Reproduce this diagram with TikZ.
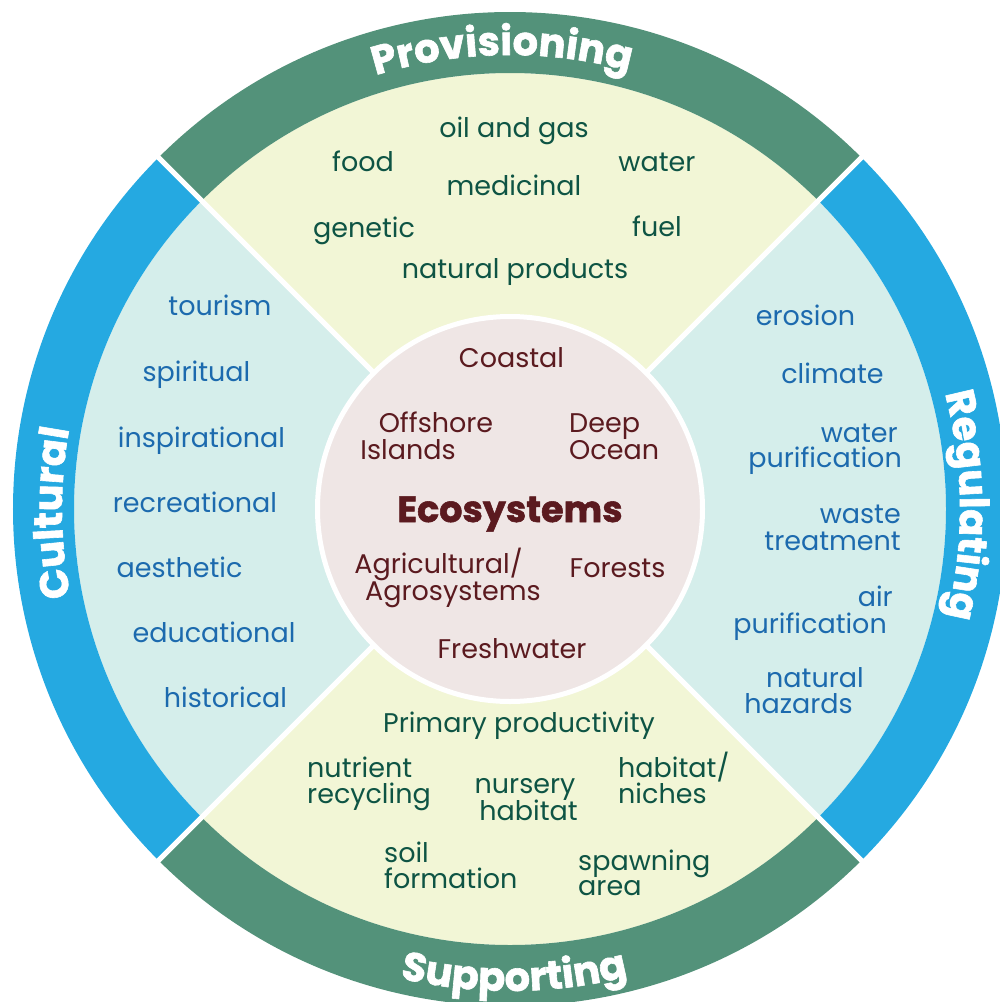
\documentclass[tikz,border=0pt]{standalone}
\usepackage{fontspec}
\setmainfont{Poppins}
\newfontfamily\heavyfont{Poppins}[BoldFeatures={FakeBold=1.5}]
\usetikzlibrary{decorations.text}
\definecolor{bandgreen}{RGB}{83,146,122}
\definecolor{bandblue}{RGB}{37,169,225}
\definecolor{paleyellow}{RGB}{242,246,214}
\definecolor{paleblue}{RGB}{213,238,235}
\definecolor{corefill}{RGB}{239,230,229}
\definecolor{coretext}{RGB}{91,26,31}
\definecolor{dkgreen}{RGB}{14,84,68}
\definecolor{svcblue}{RGB}{28,106,174}
\newcommand\bandfont{\heavyfont\bfseries\fontsize{40}{40}\selectfont\color{white}}
\begin{document}
\begin{tikzpicture}[x=1pt,y=-1pt,
  txt/.style={inner sep=0pt, anchor=base, font=\fontsize{27}{27}\selectfont},
  prov/.style={txt, text=dkgreen},
  cult/.style={txt, text=svcblue},
  eco/.style={txt, text=coretext},
  sepline/.style={white, line width=5pt},
  bandlabel/.style={decorate, decoration={text along path, text align=center, text={|\bandfont|#1}}}
  ]
\useasboundingbox (0,0) rectangle (1000,1002);
\begin{scope}[shift={(510,509)}, y=1pt]
  \coordinate (c) at (0,0);
  % inner sectors
  \fill[paleyellow] (c) -- (45:436pt) arc[start angle=45,end angle=135,radius=436pt] -- cycle;
  \fill[paleblue] (c) -- (135:436pt) arc[start angle=135,end angle=225,radius=436pt] -- cycle;
  \fill[paleyellow] (c) -- (225:436pt) arc[start angle=225,end angle=315,radius=436pt] -- cycle;
  \fill[paleblue] (c) -- (315:436pt) arc[start angle=315,end angle=405,radius=436pt] -- cycle;
  % bands
  \fill[bandgreen] (45:497pt) arc[start angle=45,end angle=135,radius=497pt] -- (135:436pt) arc[start angle=135,end angle=45,radius=436pt] -- cycle;
  \fill[bandblue] (135:497pt) arc[start angle=135,end angle=225,radius=497pt] -- (225:436pt) arc[start angle=225,end angle=135,radius=436pt] -- cycle;
  \fill[bandgreen] (225:497pt) arc[start angle=225,end angle=315,radius=497pt] -- (315:436pt) arc[start angle=315,end angle=225,radius=436pt] -- cycle;
  \fill[bandblue] (315:497pt) arc[start angle=315,end angle=405,radius=497pt] -- (405:436pt) arc[start angle=405,end angle=315,radius=436pt] -- cycle;
  % separators
  \foreach \a in {45,135,225,315} {
    \coordinate (s\a) at (\a:505pt);
    \draw[sepline] (c) -- (s\a);
  }
  % core
  \node[circle, fill=corefill, draw=white, line width=5pt, minimum size=385pt, inner sep=0pt] (core) at (c) {};
  % band labels
  \path[bandlabel=Provisioning] (131:454pt) arc[start angle=131,end angle=51,radius=454pt];
  \path[bandlabel=Supporting] (230.5:482pt) arc[start angle=230.5,end angle=310.5,radius=482pt];
  \path[bandlabel=Cultural] (220.5:448pt) arc[start angle=220.5,end angle=140.5,radius=448pt];
  \path[bandlabel=Regulating] (40.5:450pt) arc[start angle=40.5,end angle=-39.5,radius=450pt];
\end{scope}
% Provisioning
\node[prov] (oil) at (514,137) {oil and gas};
\node[prov] (food) at (363,171) {food};
\node[prov] (waterp) at (657,171) {water};
\node[prov] (medicinal) at (514,195) {medicinal};
\node[prov] (genetic) at (364,237) {genetic};
\node[prov] (fuel) at (657,236) {fuel};
\node[prov] (natprod) at (515,278) {natural products};
% Cultural
\node[cult] (tourism) at (220,315) {tourism};
\node[cult] (spiritual) at (196.5,381) {spiritual};
\node[cult] (inspirational) at (201.5,447) {inspirational};
\node[cult] (recreational) at (195,512) {recreational};
\node[cult] (aesthetic) at (179.5,577) {aesthetic};
\node[cult] (educational) at (214,642) {educational};
\node[cult] (historical) at (225.5,707) {historical};
% Regulating
\node[cult] (erosion) at (805.5,325) {erosion};
\node[cult] (climate) at (832.5,383) {climate};
\node[cult, anchor=base east] (wp1) at (898,442) {water};
\node[cult, anchor=base east] (wp2) at (902,467) {purification};
\node[cult, anchor=base east] (wt1) at (901,523) {waste};
\node[cult, anchor=base east] (wt2) at (901,550) {treatment};
\node[cult, anchor=base east] (ap1) at (893,606) {air};
\node[cult, anchor=base east] (ap2) at (887,633) {purification};
\node[cult] (nh1) at (815,687) {natural};
\node[cult] (nh2) at (798.5,713) {hazards};
% Supporting
\node[prov] (primary) at (519,732) {Primary productivity};
\node[prov, anchor=base west] (nr1) at (307,777) {nutrient};
\node[prov, anchor=base west] (nr2) at (307,803) {recycling};
\node[prov] (nh1s) at (525,793) {nursery};
\node[prov] (nh2s) at (528.5,820) {habitat};
\node[prov, anchor=base west] (hn1) at (618,777) {habitat/};
\node[prov, anchor=base west] (hn2) at (618,803) {niches};
\node[prov, anchor=base west] (sf1) at (384,862) {soil};
\node[prov, anchor=base west] (sf2) at (384,888) {formation};
\node[prov, anchor=base west] (sa1) at (578,870) {spawning};
\node[prov, anchor=base west] (sa2) at (578,895) {area};
% Ecosystems core
\node[eco] (coastal) at (511.5,367) {Coastal};
\node[eco] (oi1) at (436,432) {Offshore};
\node[eco] (oi2) at (408,459) {Islands};
\node[eco, anchor=base west] (do1) at (569,432) {Deep};
\node[eco, anchor=base west] (do2) at (569,459) {Ocean};
\node[eco, font=\heavyfont\bfseries\fontsize{36.5}{36.5}\selectfont] (ecosystems) at (510,522) {Ecosystems};
\node[eco] (ag1) at (438.5,573) {Agricultural/};
\node[eco] (ag2) at (453,600) {Agrosystems};
\node[eco] (forests) at (617.5,577) {Forests};
\node[eco] (freshwater) at (512,658) {Freshwater};
\end{tikzpicture}
\end{document}
